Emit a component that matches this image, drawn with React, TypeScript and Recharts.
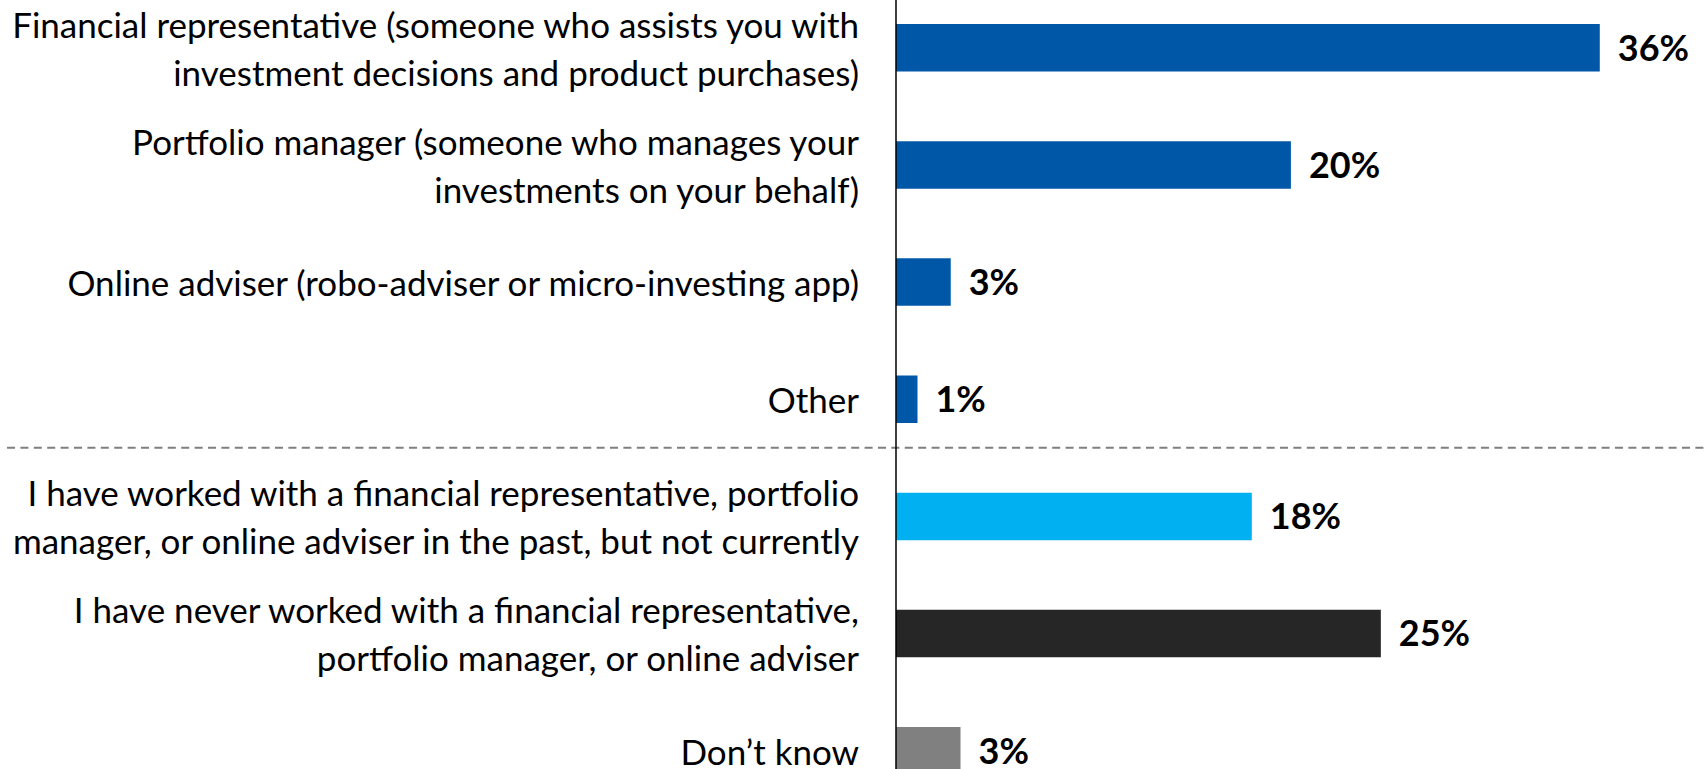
import React from "react";
import { BarChart, Bar, XAxis, YAxis, Cell, LabelList, ReferenceLine } from "recharts";

const categories: string[] = [
  "Financial representative (someone who assists you with\ninvestment decisions and product purchases)",
  "Portfolio manager (someone who manages your\ninvestments on your behalf)",
  "Online adviser (robo-adviser or micro-investing app)",
  "Other",
  "I have worked with a financial representative, portfolio\nmanager, or online adviser in the past, but not currently",
  "I have never worked with a financial representative,\nportfolio manager, or online adviser",
  "Don\u2019t know",
];
const values: number[] = [36, 20.2, 2.8, 1.1, 18.2, 24.8, 3.3];
const barColors: string[] = ["#0057A8", "#0057A8", "#0057A8", "#0057A8", "#00B0F0", "#262626", "#808080"];

const data = categories.map((name, i) => ({ name, value: values[i] }));

const FONT = "Lato, 'Open Sans', sans-serif";

const Tick = (props: any) => {
  const { x, y, payload } = props;
  const lines = String(payload.value).split("\n");
  const lh = 48;
  return (
    <g>
      {lines.map((ln, i) => (
        <text
          key={i}
          x={x}
          y={y + (i - (lines.length - 1) / 2) * lh}
          textAnchor="end"
          dominantBaseline="central"
          fontFamily={FONT}
          fontSize={35}
          fill="#000"
        >
          {ln}
        </text>
      ))}
    </g>
  );
};

const Separator = (p: any) => {
  if (p.y1 == null) return null;
  const yy = p.y1 - 10;
  return (
    <line x1={7} x2={1706} y1={yy} y2={yy} stroke="#7f7f7f" strokeWidth={2} strokeDasharray="8 5.4" />
  );
};

export default function App() {
  return (
    <div
      style={{
        position: "absolute",
        left: 0,
        top: 0,
        width: 1706,
        height: 769,
        overflow: "hidden",
        background: "#fff",
      }}
    >
      <div style={{ position: "absolute", left: 0, top: -10.6 }}>
        <BarChart
          layout="vertical"
          width={1706}
          height={820.2}
          data={data}
          margin={{ top: 0, right: 28, bottom: 0, left: 0 }}
          barSize={47.5}
        >
          <XAxis type="number" domain={[0, 40]} hide />
          <YAxis
            type="category"
            dataKey="name"
            width={896}
            axisLine={{ stroke: "#000", strokeWidth: 1.5 }}
            tickLine={false}
            tickSize={0}
            tickMargin={37}
            interval={0}
            tick={<Tick />}
          />
          <ReferenceLine y={categories[3]} position="end" shape={<Separator />} ifOverflow="visible" />
          <Bar dataKey="value" isAnimationActive={false}>
            {data.map((d, i) => (
              <Cell key={i} fill={barColors[i]} />
            ))}
            <LabelList
              dataKey="value"
              position="right"
              offset={18}
              formatter={(v: any) => `${Math.round(Number(v))}%`}
              style={{ fontFamily: FONT, fontWeight: 700, fontSize: 36, fill: "#000" }}
            />
          </Bar>
        </BarChart>
      </div>
    </div>
  );
}
